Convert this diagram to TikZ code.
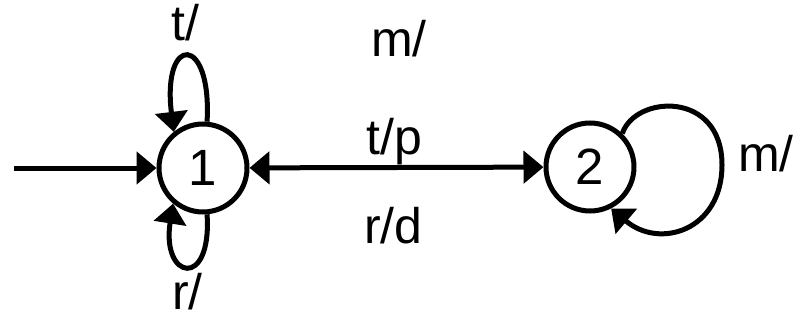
\documentclass[tikz,border=0pt]{standalone}
\usepackage{fontspec}
\setmainfont{Liberation Sans}
\usetikzlibrary{arrows.meta}
\begin{document}
\begin{tikzpicture}[x=1pt,y=-1pt,
  tip/.tip={Triangle[length=20pt,width=32pt]},
  state/.style={draw,circle,line width=5pt,minimum size=88pt,inner sep=0pt,font=\fontsize{51}{60}\selectfont},
  edge/.style={line width=5pt,-tip},
  lbl/.style={anchor=base west,inner sep=0pt,font=\fontsize{50}{60}\selectfont}]
\useasboundingbox (0,0) rectangle (798,321);
\node[state] (n1) at (203,168) {1};
\node[state] (n2) at (590,167) {2};
\coordinate (start) at (14,168);
\draw[edge] (start) -- (n1);
\draw[edge,tip-tip] (n1) -- (n2);
\draw[edge] (n1.85) .. controls +(5,-88) and +(-12,-98) .. (n1.129);
\draw[edge] (n1.-85) .. controls +(5,76) and +(-12,76) .. (n1.-130);
\draw[edge] (n2.46) .. controls (635,95) and (722,90) .. (722,165)
  .. controls (722,230) and (660,250) .. (n2.-63);
\node[lbl] (lt) at (171,41) {t/};
\node[lbl] (lr) at (172,309) {r/};
\node[lbl] (lm) at (371,57) {m/};
\node[lbl] (ltp) at (366,154) {t/p};
\node[lbl] (lrd) at (364,243) {r/d};
\node[lbl] (lm2) at (738,171) {m/};
\end{tikzpicture}
\end{document}
